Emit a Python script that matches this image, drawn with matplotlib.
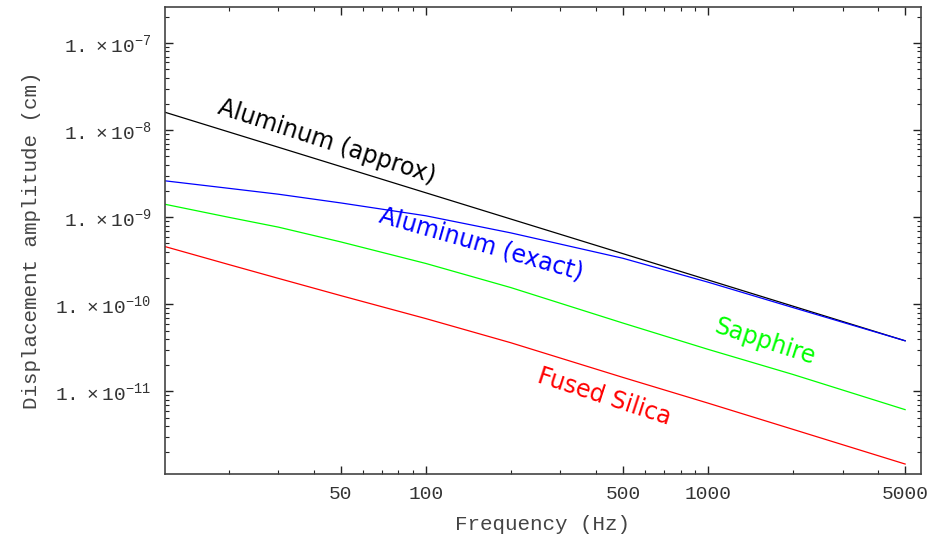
import numpy as np
import matplotlib
matplotlib.use("Agg")
import matplotlib.pyplot as plt
from matplotlib.ticker import FixedLocator, LogLocator, NullFormatter, FuncFormatter

# frequencies (Hz)
freq = [11.9, 20, 30, 50, 100, 200, 500, 1000, 2000, 5000]

# displacement amplitude (cm)
al_approx = [1.605e-8, 9.55e-9, 6.37e-9, 3.82e-9, 1.91e-9, 9.55e-10, 3.82e-10, 1.91e-10, 9.55e-11, 3.82e-11]
al_exact = [2.62e-9, 2.15e-9, 1.84e-9, 1.46e-9, 1.04e-9, 6.62e-10, 3.38e-10, 1.80e-10, 9.2e-11, 3.82e-11]
sapphire = [1.41e-9, 1.00e-9, 7.71e-10, 5.21e-10, 2.95e-10, 1.56e-10, 6.1e-11, 3.05e-11, 1.57e-11, 6.19e-12]
fused_silica = [4.61e-10, 2.87e-10, 1.99e-10, 1.26e-10, 6.87e-11, 3.63e-11, 1.45e-11, 7.36e-12, 3.68e-12, 1.47e-12]

x_major = [50, 100, 500, 1000, 5000]
y_major = [1e-11, 1e-10, 1e-9, 1e-8, 1e-7]

MONO = "Liberation Mono"


def y_fmt(v, pos):
    e = int(round(np.log10(v)))
    return r"$\mathregular{1.\times10^{%d}}$" % e


fig = plt.figure(figsize=(9.47, 5.36), dpi=100)
ax = fig.add_axes([0.1742, 0.1157, 0.9725 - 0.1742, 0.9869 - 0.1157])

ax.plot(freq, al_approx, color="black", lw=0.9)
ax.plot(freq, al_exact, color="#0000ff", lw=0.9)
ax.plot(freq, sapphire, color="#00ff00", lw=0.9)
ax.plot(freq, fused_silica, color="#ff0000", lw=0.9)

ax.set_xscale("log")
ax.set_yscale("log")
ax.set_xlim(11.9, 5690)
ax.set_ylim(1.13e-12, 2.59e-7)

ax.xaxis.set_major_locator(FixedLocator(x_major))
ax.xaxis.set_major_formatter(FuncFormatter(lambda v, p: "%d" % v))
xminor = [v * d for v in [10, 100, 1000] for d in range(1, 10)]
xminor = [m for m in xminor if m not in x_major]
ax.xaxis.set_minor_locator(FixedLocator(xminor))
ax.xaxis.set_minor_formatter(NullFormatter())

ax.yaxis.set_major_locator(FixedLocator(y_major))
ax.yaxis.set_major_formatter(FuncFormatter(y_fmt))
ax.yaxis.set_minor_locator(LogLocator(base=10, subs=np.arange(2, 10)))
ax.yaxis.set_minor_formatter(NullFormatter())

ax.tick_params(which="both", direction="in", top=True, right=True, color="#222222")
ax.tick_params(which="major", length=6, width=1.0, labelsize=14, labelcolor="#333333")
ax.tick_params(which="minor", length=3, width=0.8)
ax.tick_params(axis="y", pad=10)
ax.tick_params(axis="x", pad=9)
for lab in ax.get_xticklabels() + ax.get_yticklabels():
    lab.set_fontfamily(MONO)

for s in ax.spines.values():
    s.set_color("#444444")
    s.set_linewidth(1.2)

ax.set_xlabel("Frequency (Hz)", fontfamily=MONO, fontsize=15, color="#444444", labelpad=8)
ax.set_ylabel("Displacement amplitude (cm)", fontfamily=MONO, fontsize=15, color="#444444", labelpad=10)

# curve labels, placed in figure pixels
labels = [
    ("Aluminum (approx)", "black", 327, 142, -18),
    ("Aluminum (exact)", "#0000ff", 481, 244, -16),
    ("Sapphire", "#00ff00", 765, 342, -18),
    ("Fused Silica", "#ff0000", 604, 397, -18),
]
for txt, col, px, py, rot in labels:
    fig.text(px / 947, 1 - py / 536, txt, color=col, fontsize=17,
             rotation=rot, rotation_mode="anchor", ha="center", va="center")

fig.savefig("out.png", dpi=100)
